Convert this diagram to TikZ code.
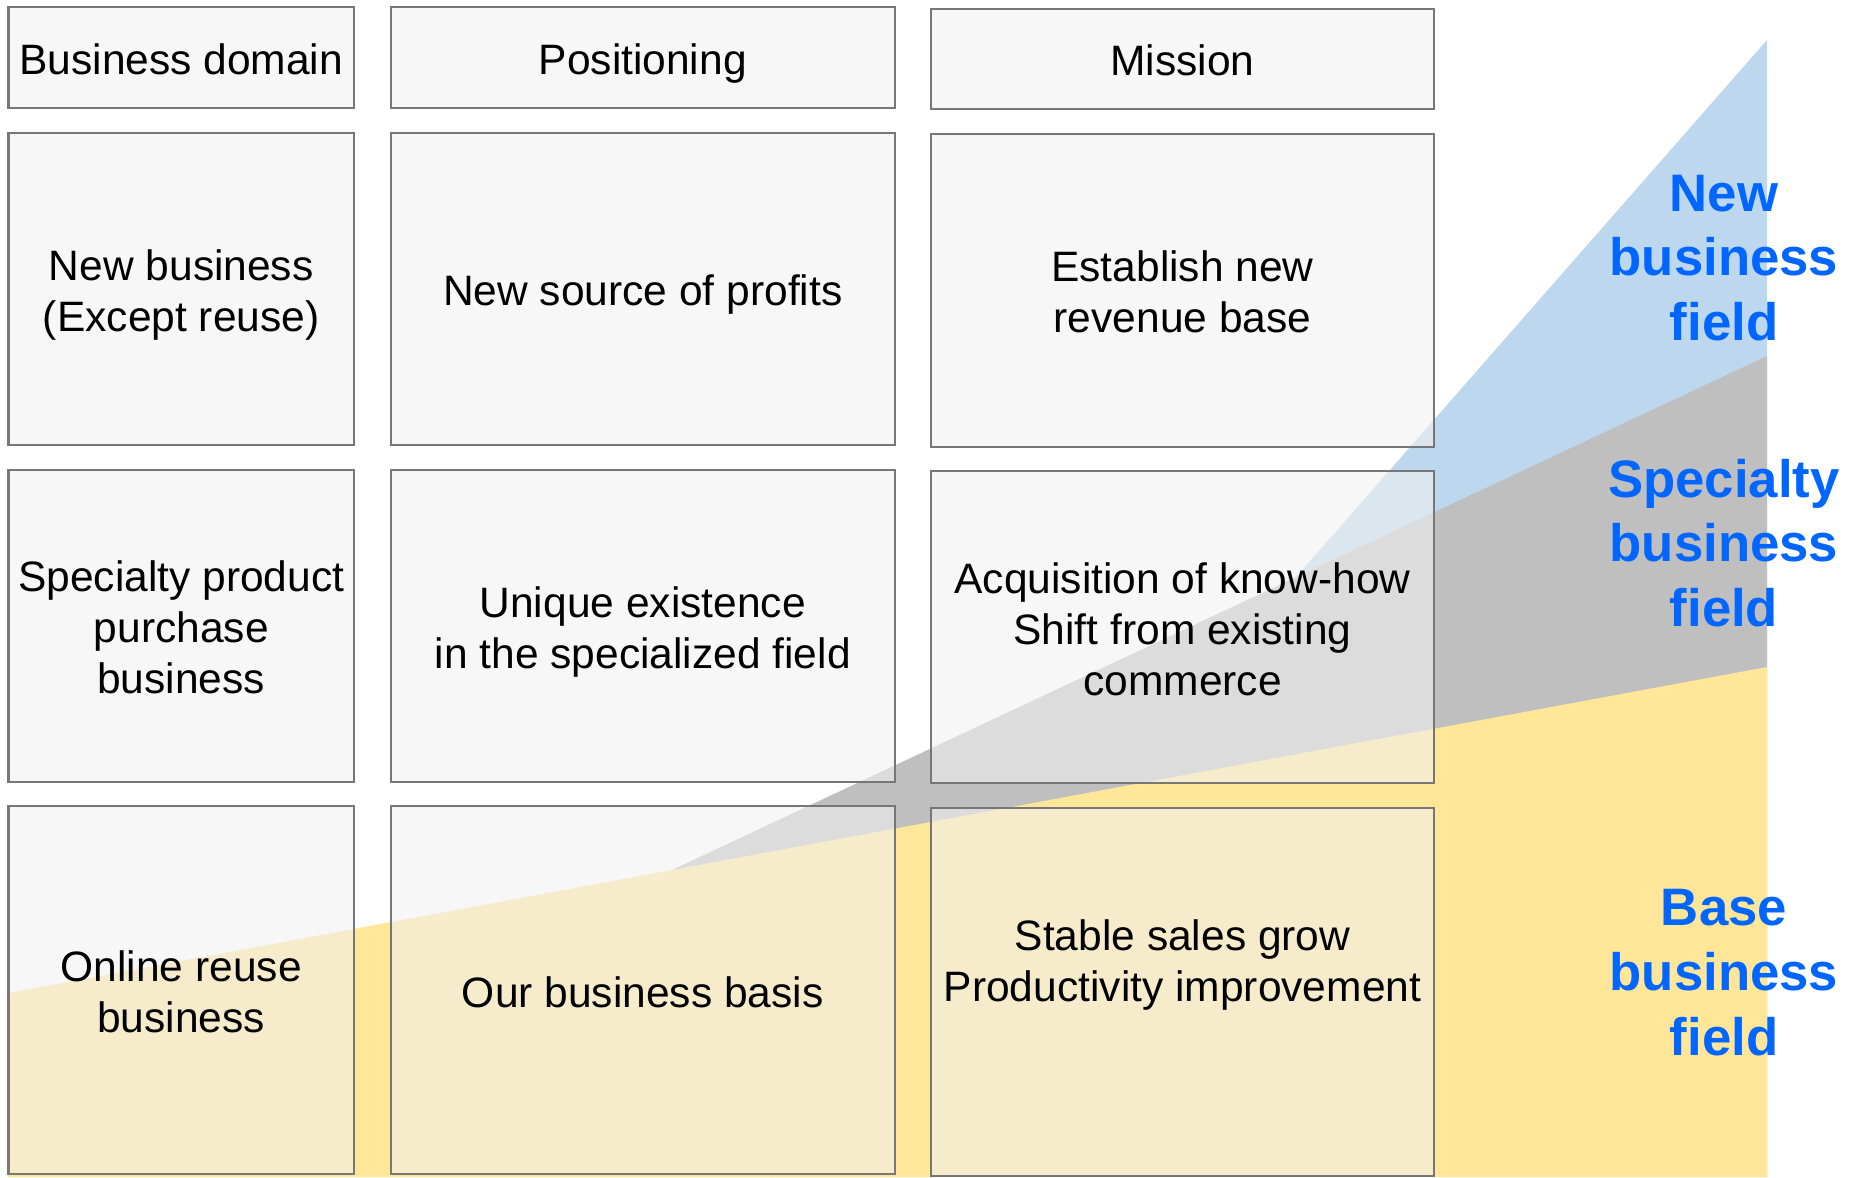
\documentclass[tikz,border=0pt]{standalone}
\usepackage{fontspec}
\setmainfont{Liberation Sans}

\definecolor{cellline}{HTML}{777777}
\definecolor{cellfill}{HTML}{F1F1F1}
\definecolor{newblue}{HTML}{BDD7EE}
\definecolor{specgray}{HTML}{BFBFBF}
\definecolor{baseyellow}{HTML}{FFE699}
\definecolor{fieldblue}{HTML}{0066FF}

% same line box in every cell, with or without descenders
\newcommand\celltop{\vrule height 12.4pt depth 0pt width 0pt}
\newcommand\cellbottom{\vrule height 0pt depth 2.6pt width 0pt}

\tikzset{
  cell/.style={draw=cellline, line width=0.57pt, fill=cellfill, fill opacity=0.58,
    text opacity=1, inner sep=0pt, align=flush center,
    font=\fontsize{12.1}{14.5}\selectfont,
    execute at begin node=\celltop, execute at end node=\cellbottom},
  domcol/.style={cell, minimum width=3.455cm, text width=3.455cm},
  poscol/.style={cell, minimum width=5.035cm, text width=5.035cm},
  miscol/.style={cell, minimum width=5.03cm, text width=5.03cm},
  field/.style={text=fieldblue, align=center,
    font=\fontsize{15}{18.4}\selectfont\bfseries}
}

\begin{document}
\begin{tikzpicture}
  \useasboundingbox (0,0) rectangle (18.55,-11.77);

  % fields behind the table
  \fill [newblue] (17.67,-0.40) -- (17.67,-11.77) -- (7.70,-11.77) -- cycle;
  \fill [specgray] (6.72,-8.70) -- (17.67,-3.56) -- (17.67,-11.77) -- cycle;
  \fill [baseyellow] (0.08,-9.93) -- (17.67,-6.67) -- (17.67,-11.77) -- (0.08,-11.77) -- cycle;

  % header row
  \node [domcol, minimum height=1.005cm] (domain) at (1.8125,-0.5725) {Business domain};
  \node [poscol, minimum height=1.005cm] (position) at (6.4275,-0.5725) {Positioning};
  \node [miscol, minimum height=1.005cm] (mission) at (11.825,-0.5875) {Mission};

  % new business
  \node [domcol, minimum height=3.125cm] (newdom) at (1.8125,-2.8875) {New business\\(Except reuse)};
  \node [poscol, minimum height=3.125cm] (newpos) at (6.4275,-2.8875) {New source of profits};
  \node [miscol, minimum height=3.125cm] (newmis) at (11.825,-2.9025) {Establish new\\revenue base};

  % specialty business
  \node [domcol, minimum height=3.12cm] (specdom) at (1.8125,-6.255) {Specialty product\\purchase\\business};
  \node [poscol, minimum height=3.12cm] (specpos) at (6.4275,-6.255) {Unique existence\\in the specialized field};
  \node [miscol, minimum height=3.12cm] (specmis) at (11.825,-6.27) {Acquisition of know-how\\Shift from existing\\commerce};

  % base business
  \node [domcol, minimum height=3.68cm] (basedom) at (1.8125,-9.90) {Online reuse\\business};
  \node [poscol, minimum height=3.68cm] (basepos) at (6.4275,-9.90) {Our business basis};
  \node [miscol, minimum height=3.68cm] (basemis) at (11.825,-9.915) {Stable sales grow\\Productivity improvement\\[4pt]\mbox{}};

  % field labels
  \node [field] (newfield) at (17.24,-2.58) {New\\business\\field};
  \node [field] (specfield) at (17.24,-5.43) {Specialty\\business\\field};
  \node [field] (basefield) at (17.24,-9.725) {Base\\business\\field};
\end{tikzpicture}
\end{document}
